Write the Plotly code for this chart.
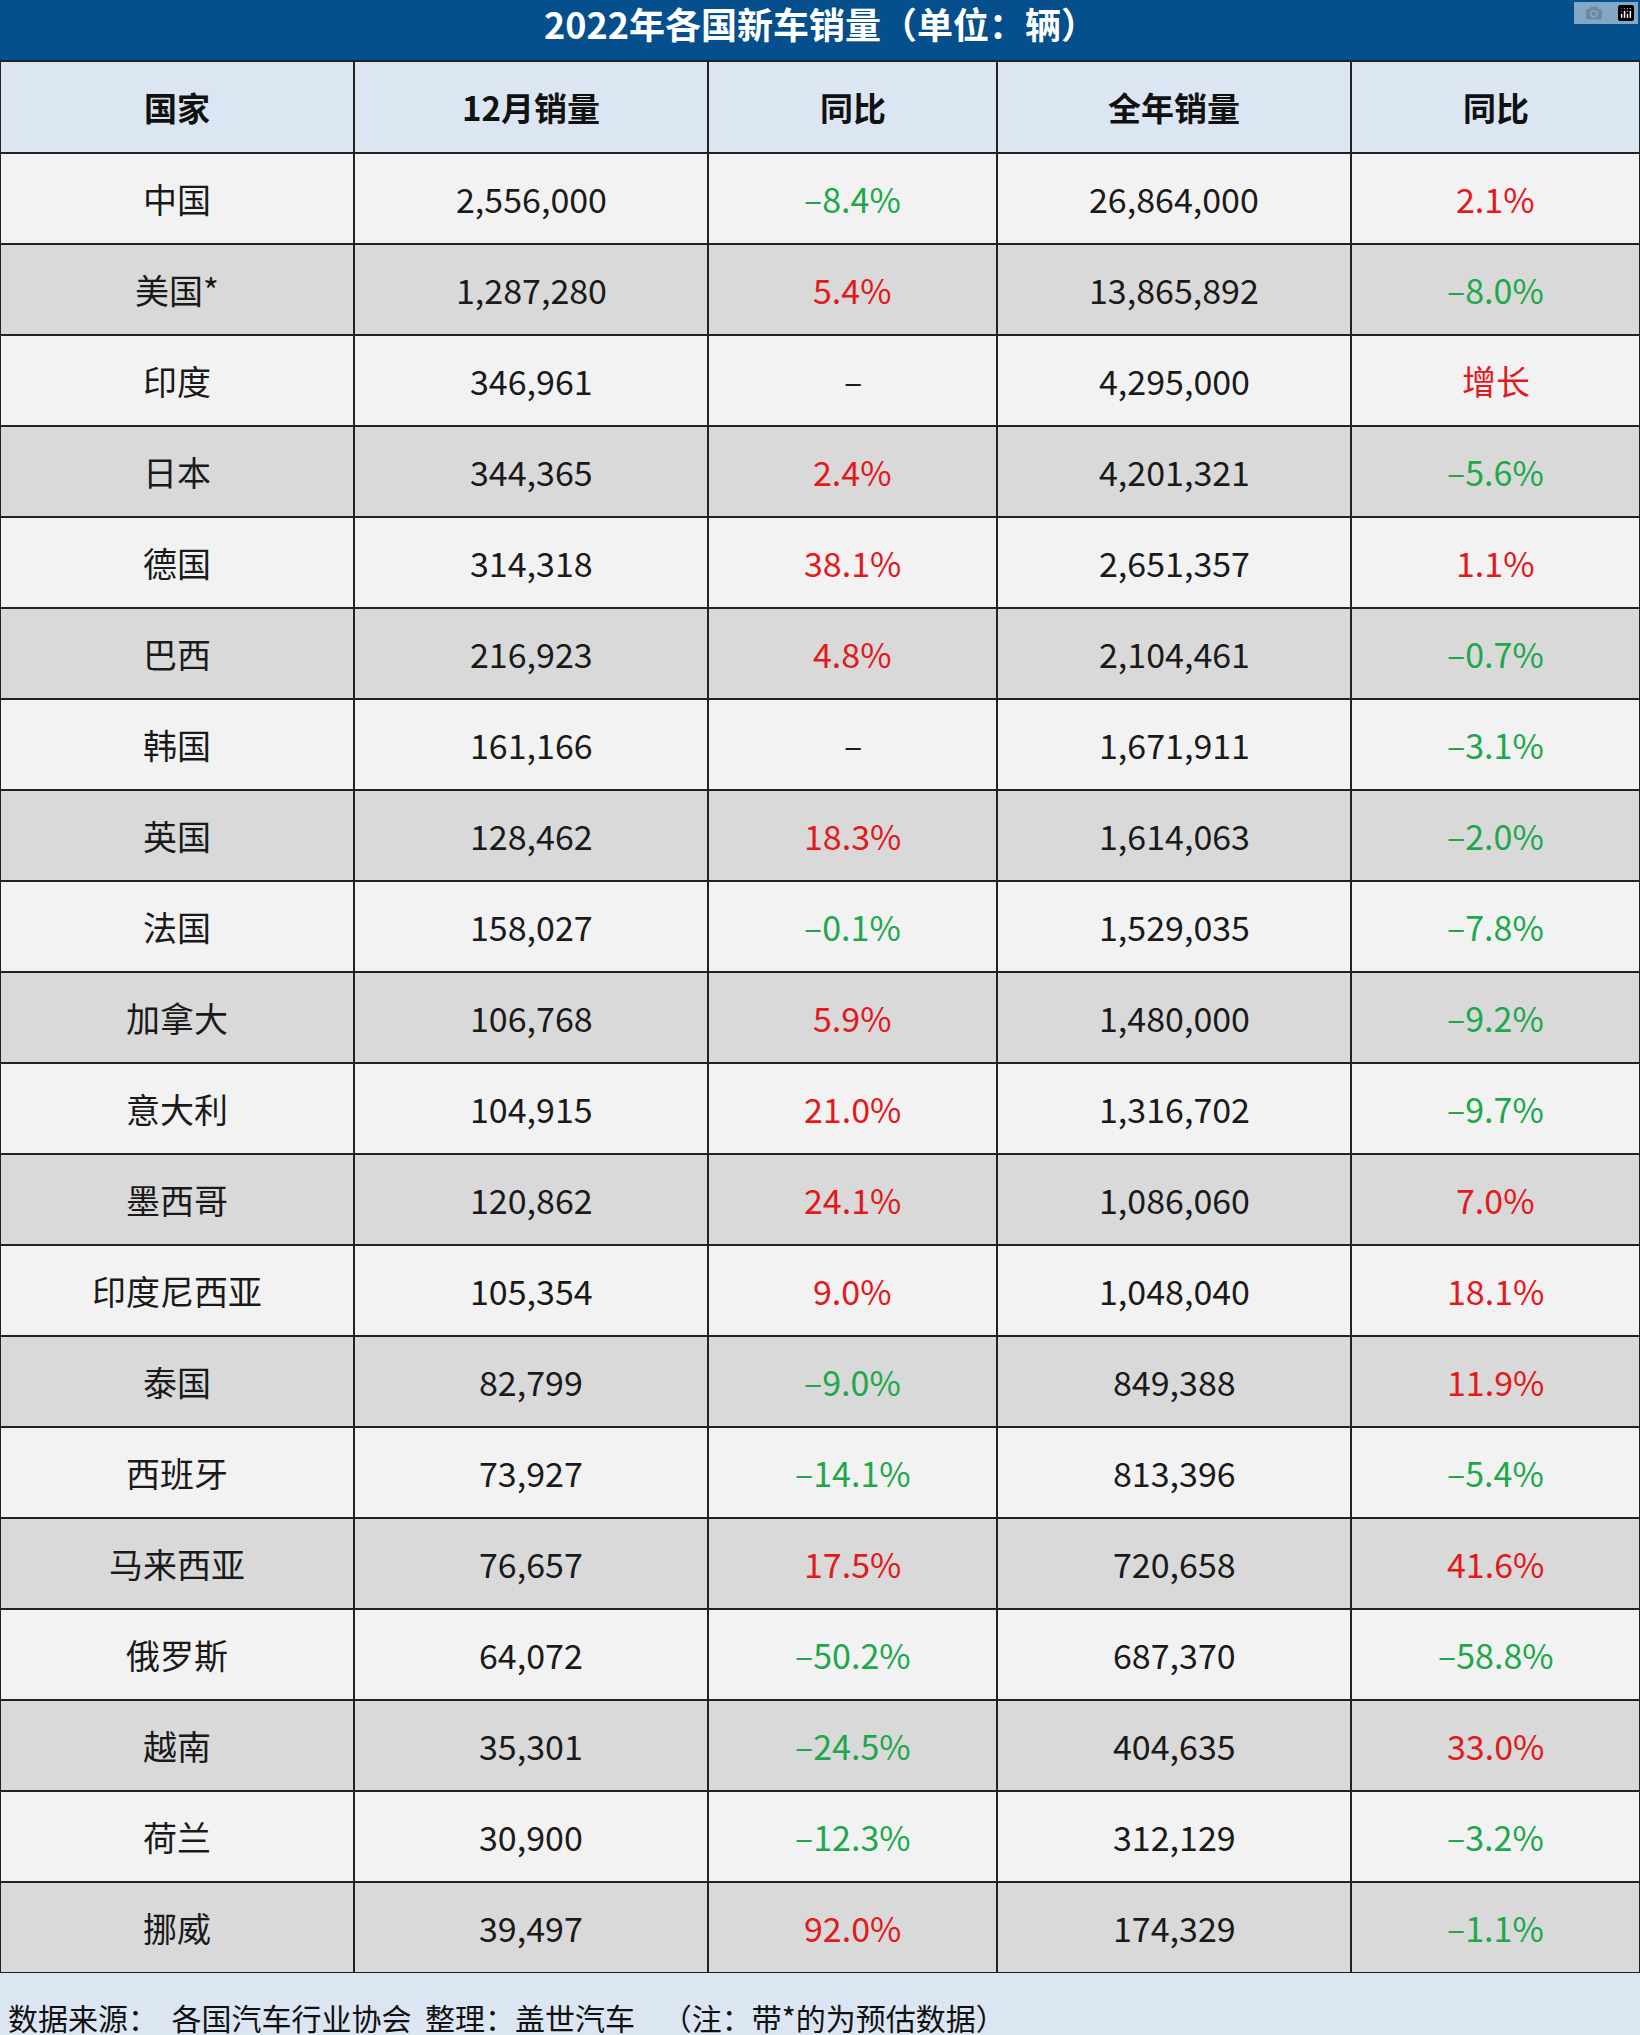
import plotly.graph_objects as go

H, W = 2035, 1640
countries = ["中国","美国*","印度","日本","德国","巴西","韩国","英国","法国","加拿大","意大利","墨西哥","印度尼西亚","泰国","西班牙","马来西亚","俄罗斯","越南","荷兰","挪威"]
dec_sales = ["2,556,000","1,287,280","346,961","344,365","314,318","216,923","161,166","128,462","158,027","106,768","104,915","120,862","105,354","82,799","73,927","76,657","64,072","35,301","30,900","39,497"]
dec_yoy = ["–8.4%","5.4%","–","2.4%","38.1%","4.8%","–","18.3%","–0.1%","5.9%","21.0%","24.1%","9.0%","–9.0%","–14.1%","17.5%","–50.2%","–24.5%","–12.3%","92.0%"]
year_sales = ["26,864,000","13,865,892","4,295,000","4,201,321","2,651,357","2,104,461","1,671,911","1,614,063","1,529,035","1,480,000","1,316,702","1,086,060","1,048,040","849,388","813,396","720,658","687,370","404,635","312,129","174,329"]
year_yoy = ["2.1%","–8.0%","增长","–5.6%","1.1%","–0.7%","–3.1%","–2.0%","–7.8%","–9.2%","–9.7%","7.0%","18.1%","11.9%","–5.4%","41.6%","–58.8%","33.0%","–3.2%","–1.1%"]
headers = ["国家","12月销量","同比","全年销量","同比"]
title = "2022年各国新车销量（单位：辆）"
footer = "数据来源：  各国汽车行业协会  整理：盖世汽车    （注：带*的为预估数据）"

RED, GREEN, BLACK = "#e3191c", "#1ea84b", "#1a1a1a"
def col(v):
    if v.startswith("–") and len(v) > 1: return GREEN
    if v == "–": return BLACK
    return RED

colw = [354, 354, 289, 354, 289]
edges = [0]
for w in colw: edges.append(edges[-1] + w)
TOP, HDR, ROW = 61, 92, 91
FONT = "Noto Sans CJK SC"

fig = go.Figure()
shapes, anns = [], []
# title bar
shapes.append(dict(type="rect", x0=0, x1=W, y0=0, y1=TOP, fillcolor="#05508c", line_width=0))
anns.append(dict(x=W/2, y=TOP/2 - 8, text=f"<b>{title}</b>", yanchor="middle",
                 font=dict(family=FONT, size=36, color="white")))
# header
for j, h in enumerate(headers):
    shapes.append(dict(type="rect", x0=edges[j], x1=edges[j+1], y0=TOP, y1=TOP+HDR,
                       fillcolor="#dce6f2", line=dict(color="#222", width=2)))
    anns.append(dict(x=(edges[j]+edges[j+1])/2, y=TOP+HDR/2, text=f"<b>{h}</b>", yanchor="middle",
                     font=dict(family=FONT, size=33, color="#111")))
cols = [countries, dec_sales, dec_yoy, year_sales, year_yoy]
for i in range(len(countries)):
    y0 = TOP + HDR + i*ROW
    fill = "#f2f2f2" if i % 2 == 0 else "#d9d9d9"
    for j, c in enumerate(cols):
        v = c[i]
        color = col(v) if j in (2, 4) else BLACK
        shapes.append(dict(type="rect", x0=edges[j], x1=edges[j+1], y0=y0, y1=y0+ROW,
                           fillcolor=fill, line=dict(color="#222", width=2)))
        anns.append(dict(x=(edges[j]+edges[j+1])/2, y=y0+ROW/2, text=v, yanchor="middle",
                         font=dict(family=FONT, size=34, color=color)))
fy = TOP + HDR + len(countries)*ROW
shapes.append(dict(type="rect", x0=0, x1=W, y0=fy, y1=H, fillcolor="#dce6f2", line_width=0))
anns.append(dict(x=6, y=H-18, text=footer, xanchor="left", yanchor="middle",
                 font=dict(family=FONT, size=30, color="#111")))
for s in shapes: s.update(xref="x", yref="y", layer="below")
for a in anns: a.update(xref="x", yref="y", showarrow=False)

fig.update_layout(width=W, height=H, margin=dict(l=0, r=0, t=0, b=0), paper_bgcolor="white",
                  plot_bgcolor="white", shapes=shapes, annotations=anns,
                  xaxis=dict(range=[0, W], visible=False, fixedrange=True),
                  yaxis=dict(range=[H, 0], visible=False, fixedrange=True), showlegend=False)
fig.write_html("out.html", post_script="document.body.style.margin='0';")
